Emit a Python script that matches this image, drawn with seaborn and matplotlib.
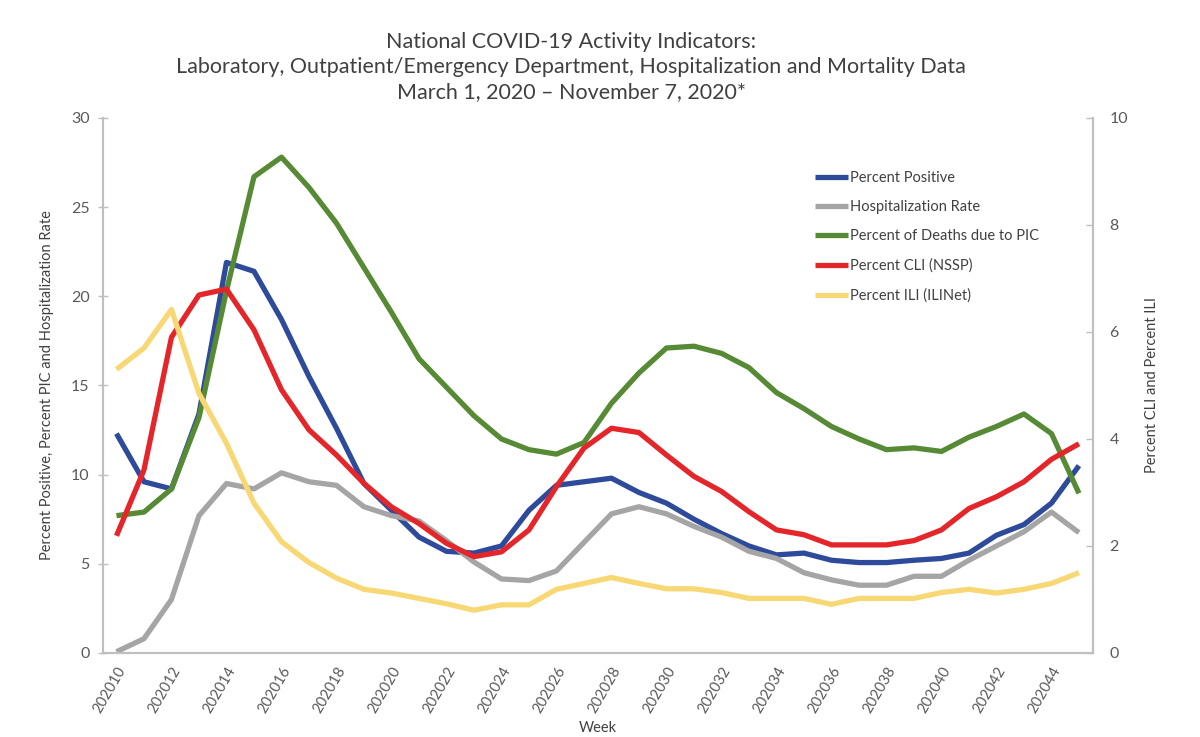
"""
National COVID-19 activity indicators, March-November 2020
Recreated with seaborn/matplotlib, dual axis line chart.
"""
import numpy as np
import matplotlib
matplotlib.use("Agg")
import matplotlib.pyplot as plt
import matplotlib.transforms as mtransforms
import seaborn as sns

sns.set_style("white")
plt.rcParams["font.family"] = ["Lato", "DejaVu Sans"]

# ----------------------------------------------------------------
# Data, weeks 202010 .. 202045
# ----------------------------------------------------------------
weeks = [f"2020{w:02d}" for w in range(10, 46)]

percent_positive = [12.3, 9.6, 9.2, 13.4, 21.9, 21.4, 18.7, 15.5, 12.6, 9.5,
                    8.0, 6.5, 5.7, 5.6, 6.0, 8.0, 9.4, 9.6, 9.8, 9.0,
                    8.4, 7.5, 6.7, 6.0, 5.5, 5.6, 5.2, 5.07, 5.07, 5.2,
                    5.3, 5.6, 6.6, 7.2, 8.4, 10.5]
hosp_rate = [0.07, 0.8, 3.0, 7.7, 9.5, 9.2, 10.1, 9.6, 9.4, 8.2,
             7.7, 7.4, 6.3, 5.1, 4.15, 4.06, 4.6, 6.2, 7.8, 8.2,
             7.8, 7.1, 6.5, 5.7, 5.3, 4.5, 4.1, 3.8, 3.8, 4.3,
             4.3, 5.2, 6.0, 6.8, 7.9, 6.75]
deaths_pic = [7.7, 7.9, 9.2, 13.2, 20.3, 26.7, 27.8, 26.1, 24.1, 21.6,
              19.1, 16.5, 14.9, 13.3, 12.0, 11.4, 11.15, 11.8, 14.0, 15.7,
              17.1, 17.2, 16.8, 16.0, 14.6, 13.7, 12.7, 12.0, 11.4, 11.5,
              11.3, 12.1, 12.7, 13.4, 12.3, 8.95]
percent_cli = [2.19, 3.42, 5.9, 6.69, 6.8, 6.04, 4.92, 4.17, 3.7, 3.17,
               2.73, 2.42, 2.05, 1.8, 1.89, 2.3, 3.11, 3.83, 4.2, 4.12,
               3.7, 3.3, 3.02, 2.64, 2.3, 2.21, 2.02, 2.02, 2.02, 2.1,
               2.3, 2.7, 2.92, 3.2, 3.62, 3.91]
percent_ili = [5.3, 5.7, 6.42, 4.85, 3.92, 2.8, 2.08, 1.69, 1.4, 1.19,
               1.12, 1.02, 0.92, 0.8, 0.9, 0.9, 1.19, 1.3, 1.41, 1.3,
               1.2, 1.2, 1.13, 1.02, 1.02, 1.02, 0.91, 1.02, 1.02, 1.02,
               1.13, 1.19, 1.12, 1.19, 1.3, 1.5]

left_series = [("Percent Positive", percent_positive, "#2E4B9B"),
               ("Hospitalization Rate", hosp_rate, "#A5A5A5"),
               ("Percent of Deaths due to PIC", deaths_pic, "#568A34")]
right_series = [("Percent CLI (NSSP)", percent_cli, "#E4262A"),
                ("Percent ILI (ILINet)", percent_ili, "#F8D874")]

x = np.arange(len(weeks))
txt = "#595959"
axis_grey = "#BFBFBF"

# ----------------------------------------------------------------
# Plot
# ----------------------------------------------------------------
fig = plt.figure(figsize=(12, 7.37), dpi=100)
ax = fig.add_axes([0.0856, 0.114, 0.825, 0.726])
ax2 = ax.twinx()

for name, vals, col in left_series:
    sns.lineplot(x=x, y=vals, ax=ax, color=col, linewidth=3.8, label=name,
                 legend=False, solid_capstyle="butt")
for name, vals, col in right_series:
    sns.lineplot(x=x, y=vals, ax=ax2, color=col, linewidth=3.8, label=name,
                 legend=False, solid_capstyle="butt")

ax.set_xlim(-0.5, len(weeks) - 0.5)
ax.set_ylim(0, 30)
ax2.set_ylim(0, 10)
ax.set_yticks(range(0, 31, 5))
ax2.set_yticks(range(0, 11, 2))

# category axis: labels every other week, tick marks between categories
ax.set_xticks(x[::2])
ax.set_xticklabels(weeks[::2], rotation=60, ha="right", rotation_mode="anchor",
                   fontsize=10.5, color=txt)
shift = mtransforms.ScaledTranslation(10 / 100, 0, fig.dpi_scale_trans)
for lab in ax.get_xticklabels():
    lab.set_transform(lab.get_transform() + shift)
ax.set_xticks(np.arange(-0.5, len(weeks), 1), minor=True)
ax.tick_params(axis="x", which="major", length=0, pad=8)
ax.tick_params(axis="x", which="minor", length=7, width=1, color=axis_grey,
               direction="inout")
ax.tick_params(axis="y", length=7, width=1, color=axis_grey, direction="inout",
               labelsize=11.5, labelcolor=txt, pad=6)
ax2.tick_params(axis="y", length=5, width=1, color=axis_grey, direction="in",
                labelsize=11.5, labelcolor=txt, pad=12)

for a in (ax, ax2):
    a.spines["top"].set_visible(False)
    for s in ("left", "right", "bottom"):
        a.spines[s].set_color(axis_grey)
        a.spines[s].set_linewidth(1.5)
    a.grid(False)
    a.set_xlabel("")
    a.set_ylabel("")

ax.set_ylabel("Percent Positive, Percent PIC and Hospitalization Rate",
              fontsize=10.5, color="#404040", labelpad=12)
ax2.set_ylabel("Percent CLI and Percent ILI", fontsize=10.5, color="#404040",
               rotation=90, labelpad=12)
ax.set_xlabel("Week", fontsize=10.5, color="#404040", labelpad=4)

fig.text(0.476, 0.957, "National COVID-19 Activity Indicators:\n"
         "Laboratory, Outpatient/Emergency Department, Hospitalization and Mortality Data\n"
         "March 1, 2020 \u2013 November 7, 2020*",
         ha="center", va="top", fontsize=15.5, color="#404040", linespacing=1.32)

handles = ax.get_lines() + ax2.get_lines()
labels = [n for n, _, _ in left_series + right_series]
fig.legend(handles, labels, loc="upper left", bbox_to_anchor=(0.668, 0.786),
           frameon=False, fontsize=10.5, handlelength=2.3, handletextpad=0.15,
           labelspacing=1.05, labelcolor="#404040")

fig.savefig("out.png", dpi=100)
